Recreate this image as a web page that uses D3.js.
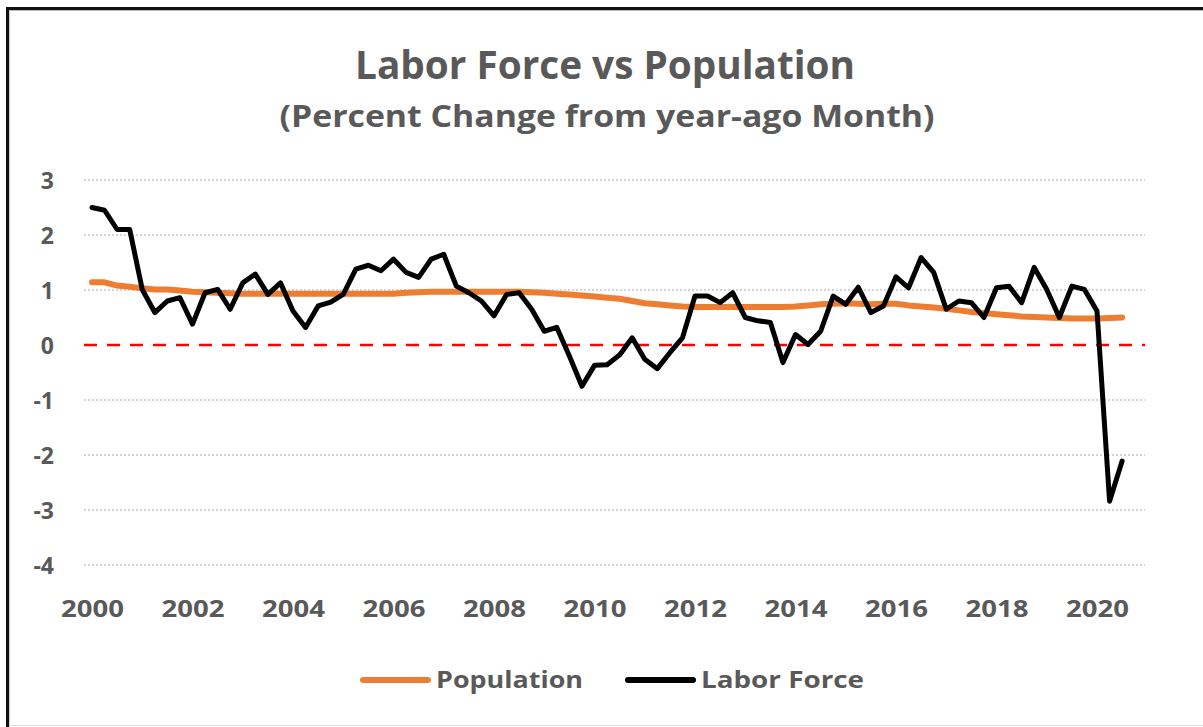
<!DOCTYPE html>
<html>
<head>
<meta charset="utf-8">
<script src="https://cdn.jsdelivr.net/npm/d3@7"></script>
<style>
  body { margin: 0; background: #fff; }
  text { font-family: "Open Sans", "Liberation Sans", sans-serif; font-weight: bold; fill: #595959; }
</style>
</head>
<body>
<div id="chart"></div>
<script>
// quarterly observations, 2000 Q1 .. 2020 Q3
const laborForce = [
  2.50, 2.45, 2.10, 2.10, 1.01, 0.59, 0.80, 0.86, 0.38, 0.95,
  1.01, 0.65, 1.13, 1.29, 0.92, 1.13, 0.62, 0.32, 0.71, 0.78,
  0.92, 1.38, 1.45, 1.35, 1.56, 1.32, 1.23, 1.56, 1.65, 1.07,
  0.95, 0.80, 0.53, 0.92, 0.95, 0.65, 0.25, 0.32, -0.20, -0.75,
  -0.37, -0.36, -0.18, 0.13, -0.26, -0.43, -0.14, 0.13, 0.89, 0.89,
  0.77, 0.95, 0.50, 0.44, 0.41, -0.32, 0.19, 0.01, 0.25, 0.89,
  0.74, 1.05, 0.59, 0.71, 1.24, 1.04, 1.59, 1.32, 0.65, 0.80,
  0.77, 0.50, 1.04, 1.07, 0.77, 1.41, 1.01, 0.50, 1.07, 1.01,
  0.62, -2.84, -2.11
];
const population = [
  1.14, 1.14, 1.08, 1.06, 1.03, 1.01, 1.01, 0.99, 0.97, 0.96,
  0.95, 0.94, 0.93, 0.93, 0.93, 0.93, 0.93, 0.93, 0.93, 0.93,
  0.93, 0.93, 0.93, 0.93, 0.93, 0.95, 0.96, 0.97, 0.97, 0.97,
  0.97, 0.97, 0.97, 0.97, 0.97, 0.96, 0.95, 0.93, 0.92, 0.90,
  0.88, 0.86, 0.84, 0.80, 0.76, 0.74, 0.72, 0.70, 0.69, 0.69,
  0.69, 0.69, 0.69, 0.69, 0.69, 0.69, 0.70, 0.72, 0.74, 0.75,
  0.76, 0.75, 0.74, 0.75, 0.75, 0.72, 0.70, 0.68, 0.66, 0.63,
  0.60, 0.58, 0.56, 0.54, 0.52, 0.51, 0.50, 0.49, 0.48, 0.48,
  0.48, 0.49, 0.50
];
const startYear = 2000;
const xTicks = [2000, 2002, 2004, 2006, 2008, 2010, 2012, 2014, 2016, 2018, 2020];
const yTicks = [3, 2, 1, 0, -1, -2, -3, -4];
const seriesNames = ['Population', 'Labor Force'];
const seriesColors = ['#ED7D31', '#000000'];

const width = 1203, height = 727;

const svg = d3.select('#chart').append('svg')
  .attr('width', width)
  .attr('height', height);

// frame
svg.append('line').attr('x1', 8).attr('x2', width).attr('y1', 8.5).attr('y2', 8.5)
  .attr('stroke', '#111').attr('stroke-width', 3);
svg.append('line').attr('x1', 7.5).attr('x2', 7.5).attr('y1', 7).attr('y2', height)
  .attr('stroke', '#111').attr('stroke-width', 3);
svg.append('line').attr('x1', 10).attr('x2', width).attr('y1', 10.5).attr('y2', 10.5)
  .attr('stroke', '#bbb').attr('stroke-width', 1);
svg.append('line').attr('x1', 9.5).attr('x2', 9.5).attr('y1', 10).attr('y2', height)
  .attr('stroke', '#ccc').attr('stroke-width', 1);
svg.append('line').attr('x1', 9).attr('x2', width).attr('y1', 725.5).attr('y2', 725.5)
  .attr('stroke', '#ddd').attr('stroke-width', 1);

// titles
svg.append('text')
  .attr('x', 605).attr('y', 79)
  .attr('text-anchor', 'middle')
  .attr('textLength', 500).attr('lengthAdjust', 'spacingAndGlyphs')
  .style('font-size', '40px')
  .text('Labor Force vs Population');

svg.append('text')
  .attr('x', 607).attr('y', 127)
  .attr('text-anchor', 'middle')
  .attr('textLength', 655).attr('lengthAdjust', 'spacingAndGlyphs')
  .style('font-size', '30px')
  .text('(Percent Change from year-ago Month)');

const x = d3.scaleLinear().domain([2000, 2020]).range([92, 1097]);
const y = d3.scaleLinear().domain([-4, 3]).range([565, 180]);

// gridlines
svg.append('g').selectAll('line')
  .data(yTicks.filter(d => d !== 0))
  .join('line')
  .attr('x1', 84).attr('x2', 1145)
  .attr('y1', d => y(d)).attr('y2', d => y(d))
  .attr('stroke', '#c8c8c8')
  .attr('stroke-width', 1.5)
  .attr('stroke-dasharray', '2,2');

// y axis labels (plain hyphen for negatives)
const yAxis = d3.axisLeft(y).tickValues(yTicks).tickFormat(d => String(d)).tickSize(0).tickPadding(0);
const yG = svg.append('g').attr('transform', 'translate(54,0)').call(yAxis);
yG.select('.domain').remove();
yG.selectAll('text')
  .attr('fill', '#595959')
  .style('font-size', '23px')
  .attr('dy', '0.35em');

// x axis labels
const xAxis = d3.axisBottom(x).tickValues(xTicks).tickFormat(d3.format('d')).tickSize(0).tickPadding(0);
const xG = svg.append('g').attr('transform', 'translate(0,600)').call(xAxis);
xG.select('.domain').remove();
xG.selectAll('text')
  .attr('fill', '#595959')
  .attr('dy', '0.71em')
  .attr('textLength', 63).attr('lengthAdjust', 'spacingAndGlyphs')
  .style('font-size', '24px');

// zero reference line
svg.append('line')
  .attr('x1', 84).attr('x2', 1145)
  .attr('y1', y(0)).attr('y2', y(0))
  .attr('stroke', '#ff0000')
  .attr('stroke-width', 2.5)
  .attr('stroke-dasharray', '13,10');

const line = d3.line()
  .x((d, i) => x(startYear + i / 4))
  .y(d => y(d));

svg.append('path')
  .datum(population)
  .attr('fill', 'none')
  .attr('stroke', seriesColors[0])
  .attr('stroke-width', 6)
  .attr('stroke-linejoin', 'round')
  .attr('stroke-linecap', 'round')
  .attr('d', line);

svg.append('path')
  .datum(laborForce)
  .attr('fill', 'none')
  .attr('stroke', seriesColors[1])
  .attr('stroke-width', 5)
  .attr('stroke-linejoin', 'round')
  .attr('stroke-linecap', 'round')
  .attr('d', line);

// legend
const legendItems = [
  { name: seriesNames[0], color: seriesColors[0], x: 363, len: 147 },
  { name: seriesNames[1], color: seriesColors[1], x: 628, len: 163 }
];
const legend = svg.append('g').selectAll('g')
  .data(legendItems)
  .join('g')
  .attr('transform', d => `translate(${d.x},680)`);
legend.append('line')
  .attr('x1', 0).attr('x2', 65)
  .attr('stroke', d => d.color)
  .attr('stroke-width', 6)
  .attr('stroke-linecap', 'round');
legend.append('text')
  .attr('x', 73).attr('dy', '0.35em')
  .attr('textLength', d => d.len).attr('lengthAdjust', 'spacingAndGlyphs')
  .style('font-size', '24px')
  .text(d => d.name);
</script>
</body>
</html>
